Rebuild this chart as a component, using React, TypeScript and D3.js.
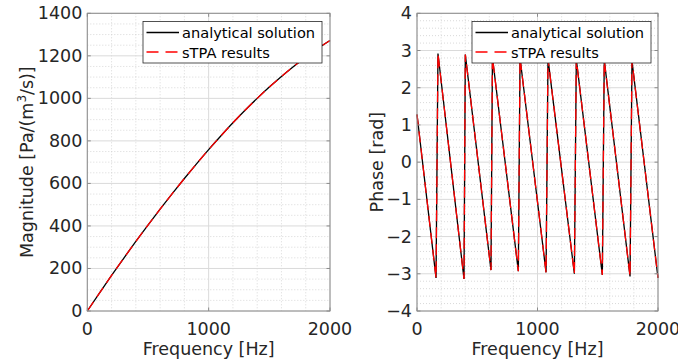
import React from "react";
import * as d3 from "d3";

// Magnitude data (Hz, Pa/(m^3/s))
const magFreq = [0, 100, 200, 300, 400, 500, 600, 700, 800, 900, 1000, 1100, 1200, 1300, 1400, 1500, 1600, 1700, 1800, 1900, 2000];
const magAnalytical = [0, 84, 167, 248, 327, 404, 479, 552, 623, 692, 759, 823, 885, 944, 1000, 1053, 1103, 1150, 1194, 1235, 1272];
const magSTPA = [0, 84, 167, 248, 327, 404, 479, 552, 623, 692, 759, 823, 885, 944, 1000, 1053, 1103, 1150, 1194, 1235, 1272];

// Phase data (Hz, rad)
const phaseFreq = [0, 158, 174, 390, 401, 614, 626, 841, 855, 1071, 1087, 1306, 1322, 1538, 1554, 1768, 1784, 2000];
const phaseAnalytical = [1.28, -3.11, 2.92, -3.14, 2.89, -2.9, 2.82, -2.93, 2.8, -2.96, 2.78, -3.0, 2.76, -3.03, 2.74, -3.07, 2.72, -3.11];
const phaseSTPA = [1.28, -3.11, 2.92, -3.14, 2.89, -2.9, 2.82, -2.93, 2.8, -2.96, 2.78, -3.0, 2.76, -3.03, 2.74, -3.07, 2.72, -3.11];

const xTicks = [0, 1000, 2000];
const magTicks = [0, 200, 400, 600, 800, 1000, 1200, 1400];
const phaseTicks = [-4, -3, -2, -1, 0, 1, 2, 3, 4];
const legendLabels = ["analytical solution", "sTPA results"];

const FONT = "DejaVu Sans, sans-serif";
const TXT = "#262626";
const AXIS = "#8c8c8c";

type PanelProps = {
  x0: number;
  x1: number;
  y0: number;
  y1: number;
  yDomain: [number, number];
  yTicks: number[];
  yMinorStep: number;
  freq: number[];
  a: number[];
  b: number[];
  smooth: boolean;
  yLabel: React.ReactNode;
  yLabelX: number;
  legendX: number;
};

function Panel(p: PanelProps) {
  const xs = d3.scaleLinear().domain([0, 2000]).range([p.x0, p.x1]);
  const ys = d3.scaleLinear().domain(p.yDomain).range([p.y1, p.y0]);
  const xMinor = d3.range(0, 2000 + 1, 200).filter((v) => !xTicks.includes(v));
  const nMinor = Math.round((p.yDomain[1] - p.yDomain[0]) / p.yMinorStep);
  const yMinor = d3
    .range(0, nMinor + 1)
    .map((i) => p.yDomain[0] + i * p.yMinorStep)
    .filter((v) => !p.yTicks.some((t) => Math.abs(t - v) < 1e-9));
  const line = d3
    .line<number>()
    .x((_, i) => xs(p.freq[i]))
    .y((d) => ys(d))
    .curve(p.smooth ? d3.curveMonotoneX : d3.curveLinear);
  const tl = 3.5;
  const lx = p.legendX;
  const rows = [32.5, 52];
  return (
    <g>
      <rect x={p.x0} y={p.y0} width={p.x1 - p.x0} height={p.y1 - p.y0} fill="#fff" />
      {/* minor grid */}
      {xMinor.map((v) => (
        <line key={"xm" + v} x1={xs(v)} x2={xs(v)} y1={p.y0} y2={p.y1} stroke="#cfcfcf" strokeWidth={0.8} strokeDasharray="1,2" />
      ))}
      {yMinor.map((v) => (
        <line key={"ym" + v} x1={p.x0} x2={p.x1} y1={ys(v)} y2={ys(v)} stroke="#cfcfcf" strokeWidth={0.8} strokeDasharray="1,2" />
      ))}
      {/* major grid */}
      {xTicks.map((v) => (
        <line key={"xg" + v} x1={xs(v)} x2={xs(v)} y1={p.y0} y2={p.y1} stroke="#dadada" strokeWidth={1} />
      ))}
      {p.yTicks.map((v) => (
        <line key={"yg" + v} x1={p.x0} x2={p.x1} y1={ys(v)} y2={ys(v)} stroke="#dadada" strokeWidth={1} />
      ))}
      {/* data */}
      <path d={line(p.a) || ""} fill="none" stroke="#000" strokeWidth={1.3} />
      <path d={line(p.b) || ""} fill="none" stroke="#ff0000" strokeWidth={1.3} strokeDasharray="11,6" />
      {/* frame */}
      <rect x={p.x0} y={p.y0} width={p.x1 - p.x0} height={p.y1 - p.y0} fill="none" stroke={AXIS} strokeWidth={1} />
      {/* ticks */}
      {xTicks.map((v) => (
        <g key={"xt" + v}>
          <line x1={xs(v)} x2={xs(v)} y1={p.y1} y2={p.y1 - tl} stroke={AXIS} />
          <line x1={xs(v)} x2={xs(v)} y1={p.y0} y2={p.y0 + tl} stroke={AXIS} />
          <text x={xs(v)} y={329} textAnchor="middle" dominantBaseline="central" fontSize={17.5} fill={TXT} fontFamily={FONT}>
            {v}
          </text>
        </g>
      ))}
      {p.yTicks.map((v) => (
        <g key={"yt" + v}>
          <line x1={p.x0} x2={p.x0 + tl} y1={ys(v)} y2={ys(v)} stroke={AXIS} />
          <line x1={p.x1} x2={p.x1 - tl} y1={ys(v)} y2={ys(v)} stroke={AXIS} />
          <text x={p.x0 - 5} y={ys(v)} textAnchor="end" dominantBaseline="central" fontSize={17.5} fill={TXT} fontFamily={FONT}>
            {v < 0 ? "\u2212" + Math.abs(v) : v}
          </text>
        </g>
      ))}
      {/* axis labels */}
      <text x={(p.x0 + p.x1) / 2} y={355} textAnchor="middle" fontSize={17.5} fill={TXT} fontFamily={FONT}>
        Frequency [Hz]
      </text>
      <text
        transform={`translate(${p.yLabelX},${(p.y0 + p.y1) / 2}) rotate(-90)`}
        textAnchor="middle"
        fontSize={17.5}
        fill={TXT}
        fontFamily={FONT}
      >
        {p.yLabel}
      </text>
      {/* legend */}
      <rect x={lx} y={21.5} width={179} height={41.5} fill="#fff" stroke="#262626" strokeWidth={0.8} />
      <line x1={lx + 3.5} x2={lx + 36} y1={rows[0]} y2={rows[0]} stroke="#000" strokeWidth={1.3} />
      <line x1={lx + 3.5} x2={lx + 36} y1={rows[1]} y2={rows[1]} stroke="#ff0000" strokeWidth={1.3} strokeDasharray="12,7" />
      {legendLabels.map((t, i) => (
        <text key={t} x={lx + 39} y={rows[i]} dominantBaseline="central" fontSize={14.6} fill="#000" fontFamily={FONT}>
          {t}
        </text>
      ))}
    </g>
  );
}

export default function App() {
  return (
    <svg width={678} height={364} style={{ position: "absolute", left: 0, top: 0, background: "#fff" }}>
      <rect width={678} height={364} fill="#fff" />
      <Panel
        x0={87.3}
        x1={330}
        y0={13.3}
        y1={311}
        yDomain={[0, 1400]}
        yTicks={magTicks}
        yMinorStep={50}
        freq={magFreq}
        a={magAnalytical}
        b={magSTPA}
        smooth={true}
        yLabelX={33}
        legendX={143}
        yLabel={
          <>
            Magnitude [Pa/(m
            <tspan dy={-7} fontSize={12}>
              3
            </tspan>
            <tspan dy={7}>/s)]</tspan>
          </>
        }
      />
      <Panel
        x0={417}
        x1={658}
        y0={13.3}
        y1={311}
        yDomain={[-4, 4]}
        yTicks={phaseTicks}
        yMinorStep={0.2}
        freq={phaseFreq}
        a={phaseAnalytical}
        b={phaseSTPA}
        smooth={false}
        yLabelX={383}
        legendX={472}
        yLabel={<>Phase [rad]</>}
      />
    </svg>
  );
}
